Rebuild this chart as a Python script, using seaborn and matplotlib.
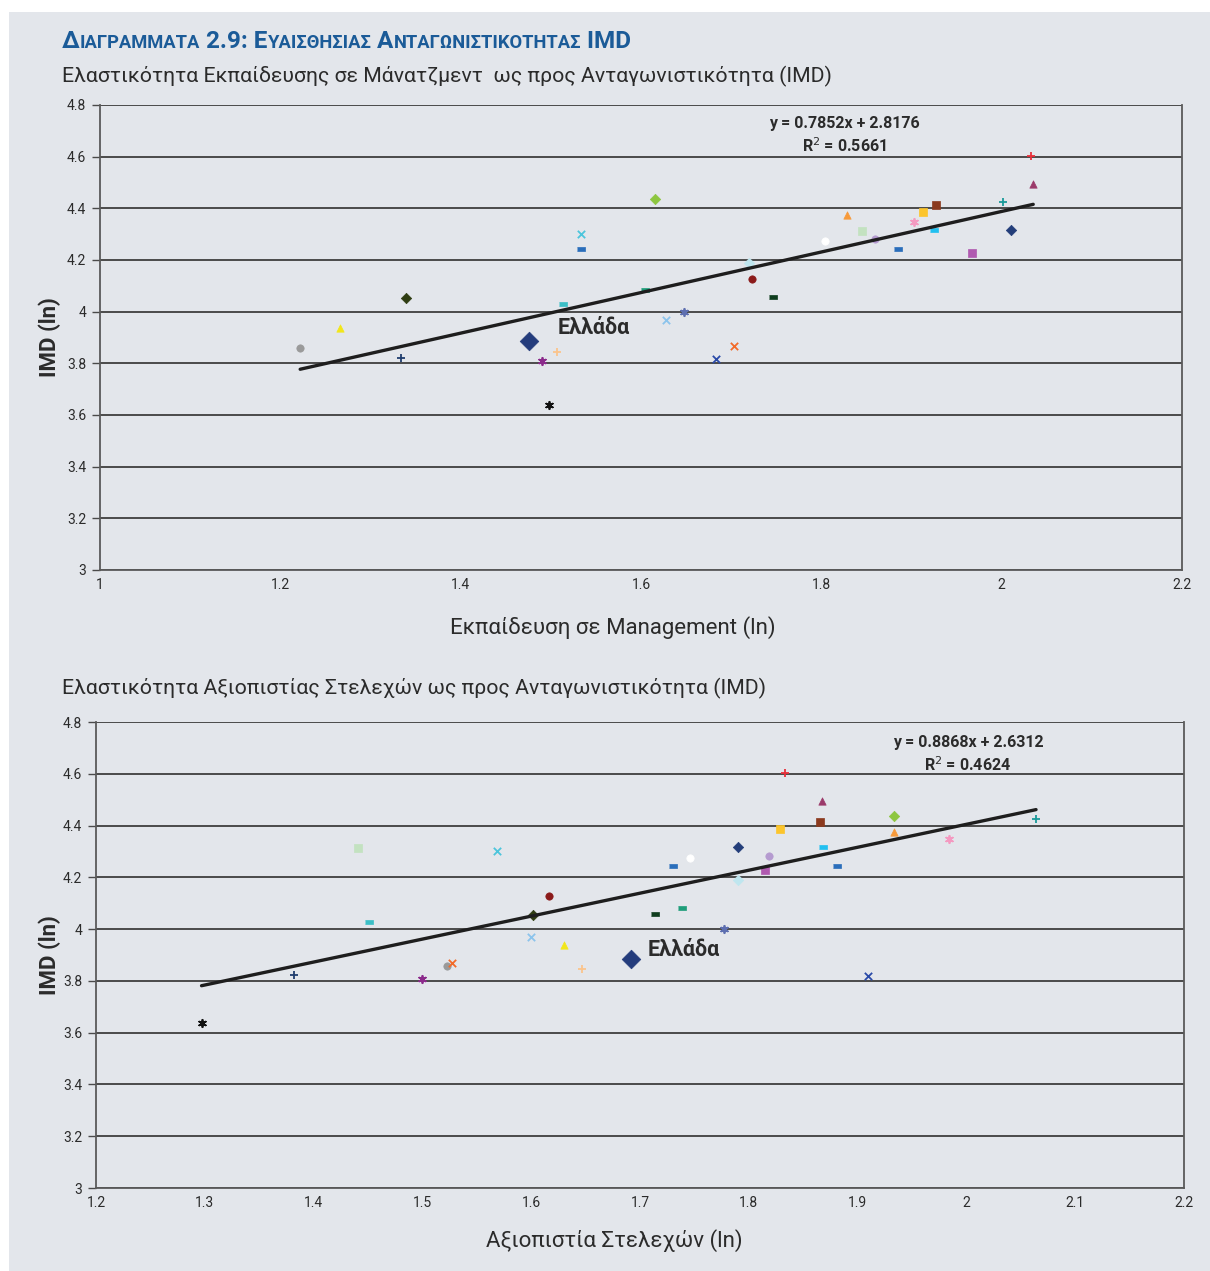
import numpy as np
import pandas as pd
import matplotlib
matplotlib.use("Agg")
import matplotlib.pyplot as plt
import seaborn as sns

# one entry per country, same order in every list
imd = [3.885, 4.436, 4.300, 4.243, 4.082, 4.053, 4.604, 4.495, 4.426, 4.413,
       4.387, 4.375, 4.349, 4.312, 4.318, 4.281, 4.275, 4.244, 4.318, 4.228,
       4.189, 4.128, 4.057, 4.029, 3.937, 3.859, 3.822, 3.845, 3.808, 3.639,
       3.968, 4.000, 3.868, 3.817]
mgmt_training = [1.476, 1.616, 1.533, 1.533, 1.604, 1.339, 2.032, 2.035, 2.001, 1.927,
                 1.913, 1.828, 1.903, 1.845, 1.925, 1.860, 1.804, 1.885, 2.010, 1.967,
                 1.720, 1.723, 1.746, 1.513, 1.266, 1.222, 1.334, 1.507, 1.490, 1.498,
                 1.628, 1.648, 1.703, 1.683]
exec_reliability = [1.692, 1.933, 1.569, 1.730, 1.739, 1.602, 1.833, 1.867, 2.064, 1.865,
                    1.829, 1.933, 1.984, 1.441, 1.868, 1.819, 1.746, 1.881, 1.790, 1.815,
                    1.790, 1.616, 1.714, 1.451, 1.630, 1.523, 1.382, 1.647, 1.500, 1.297,
                    1.600, 1.777, 1.527, 1.910]

# trend lines as printed on the charts
trend_slope = [0.7852, 0.8868]
trend_intercept = [2.8176, 2.6312]
trend_r2 = [0.5661, 0.4624]

# styles (Excel default series markers)
dash = [(-1, -0.45), (1, -0.45), (1, 0.45), (-1, 0.45)]
star = (6, 2, 0)
colors = ["#243c7c", "#8dc63f", "#4cc5dc", "#2a6ebb", "#1f9e7a", "#2f3d12", "#e8303a",
          "#9b3a6a", "#1a9a9a", "#8b3a1e", "#fcc52c", "#f79a3a", "#f49ac1", "#c3e2c0",
          "#22c0f0", "#b59bd0", "#ffffff", "#2a6ebb", "#233e7a", "#b05ab0", "#bfe6ef",
          "#8b1a1a", "#0f3d1e", "#3bbfc6", "#f2e61a", "#9a9a9a", "#1f3d6e", "#fbc48c",
          "#8b2a8b", "#111111", "#8cc4ec", "#5e6fb0", "#f26b2a", "#2a4aa8"]
markers = ["D", "D", "x", dash, dash, "D", "+", "^", "+", "s",
           "s", "^", star, "s", dash, "o", "o", dash, "D", "s",
           "D", "o", dash, dash, "^", "o", "+", "+", star, star,
           "x", star, "x", "x"]

BG = "#e3e6eb"
GRID = "#4a4a4a"
TXT = "#2b2b2b"
TITLE = "#1b5b98"

sns.set_theme(style="white")
plt.rcParams["font.family"] = ["Roboto", "DejaVu Sans"]

W, H = 1210, 1271
fig = plt.figure(figsize=(W / 100, H / 100), dpi=100, facecolor="white")
fig.patches.append(plt.Rectangle((9 / W, 0), 1, 1 - 12 / H, transform=fig.transFigure,
                                 facecolor=BG, edgecolor="none", zorder=-10))

df = pd.DataFrame({"imd": imd, "mgmt": mgmt_training, "rel": exec_reliability})

panels = [
    dict(rect=[100 / W, 1 - 570 / H, 1082 / W, 465 / H], col="mgmt",
         xlim=(1, 2.2), xticks=np.arange(1, 2.21, 0.2),
         xlabel="Εκπαίδευση σε Management (ln)", greece=(1.507, 3.937),
         eq=(1.826, 4.682), xlab_pos=(0.474, -0.1), ylab_x=-0.036),
    dict(rect=[96 / W, 1 - 1188 / H, 1088 / W, 466 / H], col="rel",
         xlim=(1.2, 2.2), xticks=np.arange(1.2, 2.21, 0.1),
         xlabel="Αξιοπιστία Στελεχών (ln)", greece=(1.707, 3.92),
         eq=(2.0015, 4.674), xlab_pos=(0.476, -0.088), ylab_x=-0.032),
]

for i, p in enumerate(panels):
    ax = fig.add_axes(p["rect"])
    ax.set_facecolor(BG)
    for j in range(len(df)):
        m = markers[j]
        line_art = m in ("x", "+") or m == star
        size = 90 if j == 0 else 28
        kw = dict(linewidth=1.3) if line_art else dict(edgecolor=colors[j], linewidth=0.5)
        sns.scatterplot(x=[df[p["col"]][j]], y=[df["imd"][j]], marker=m, color=colors[j],
                        s=size, ax=ax, zorder=3, legend=False, **kw)
    xs = np.array([df[p["col"]].min(), df[p["col"]].max()])
    sns.lineplot(x=xs, y=trend_slope[i] * xs + trend_intercept[i], color="#1e1e1e",
                 linewidth=2.4, ax=ax, zorder=4)
    ax.set_xlim(*p["xlim"])
    ax.set_ylim(3, 4.8)
    ax.set_xticks(p["xticks"])
    ax.set_xticklabels([f"{v:g}" for v in np.round(p["xticks"], 1)])
    yt = np.round(np.arange(3, 4.81, 0.2), 1)
    ax.set_yticks(yt)
    ax.set_yticklabels([f"{v:g}" for v in yt])
    ax.tick_params(axis="x", length=0, pad=6, labelsize=10, labelcolor=TXT)
    ax.tick_params(axis="y", length=6, width=1, color=GRID, pad=4, labelsize=10,
                   labelcolor=TXT, left=True)
    ax.yaxis.grid(True, color=GRID, linewidth=1.4)
    ax.set_axisbelow(True)
    for s in ["left", "bottom", "right"]:
        ax.spines[s].set_color("#5a5a5a")
        ax.spines[s].set_linewidth(1.3)
    ax.spines["top"].set_visible(False)
    ax.set_xlabel(p["xlabel"], fontsize=16, color=TXT)
    ax.xaxis.set_label_coords(*p["xlab_pos"])
    ax.set_ylabel("IMD (ln)", fontsize=16, fontweight="bold", color=TXT)
    ax.yaxis.set_label_coords(p["ylab_x"], 0.5)
    ax.text(*p["greece"], "Ελλάδα", fontsize=15.5, fontweight="bold", color=TXT,
            va="center", ha="left", zorder=5)
    ax.text(*p["eq"], f"y = {trend_slope[i]:.4f}x + {trend_intercept[i]:.4f}\n"
            f"R$^2$ = {trend_r2[i]:.4f}", fontsize=11.5, fontweight="bold", color=TXT,
            ha="center", va="center", linespacing=1.35, zorder=5)

fig.text(62 / W, 1 - 76 / H,
         "Ελαστικότητα Εκπαίδευσης σε Μάνατζμεντ  ως προς Ανταγωνιστικότητα (IMD)",
         fontsize=15.3, color=TXT, va="center")
fig.text(62 / W, 1 - 688 / H,
         "Ελαστικότητα Αξιοπιστίας Στελεχών ως προς Ανταγωνιστικότητα (IMD)",
         fontsize=15.3, color=TXT, va="center")

# small-caps heading built from pieces
pieces = [("Δ", 17.5), ("ΙΑΓΡΑΜΜΑΤΑ", 13.2), (" 2.9: Ε", 17.5), ("ΥΑΙΣΘΗΣΙΑΣ", 13.2),
          (" Α", 17.5), ("ΝΤΑΓΩΝΙΣΤΙΚΟΤΗΤΑΣ", 13.2), (" IMD", 17.5)]
renderer = fig.canvas.get_renderer()
x0 = 62
for txt, fs in pieces:
    t = fig.text(x0 / W, 1 - 48 / H, txt, fontsize=fs, fontweight="bold",
                 color=TITLE, va="baseline", ha="left")
    x0 = t.get_window_extent(renderer).x1

fig.savefig("out.png", dpi=100, facecolor="white")
